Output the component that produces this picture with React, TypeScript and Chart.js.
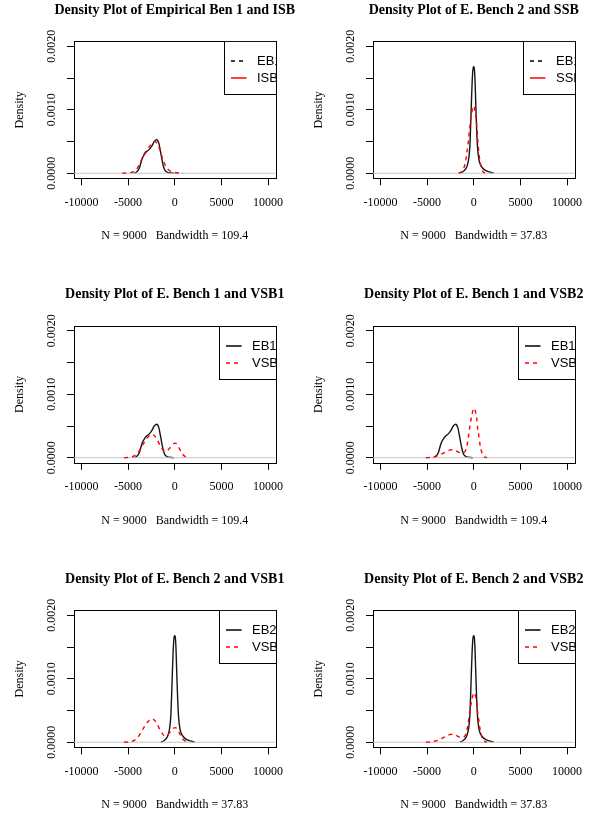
import React, { useEffect, useRef } from "react";
import { Chart, registerables } from "chart.js";

Chart.register(...registerables);

// ---------------- data ----------------
const xTicks = [-10000, -5000, 0, 5000, 10000];
const xTickLabels = ["-10000", "-5000", "0", "5000", "10000"];
const yTicks = [0, 0.0005, 0.001, 0.0015, 0.002];
const yTickLabels = ["0.0000", "", "0.0010", "", "0.0020"];
const X_MIN = -10800;
const X_MAX = 10800;
const Y_MIN = -0.00008;
const Y_MAX = 0.00208;

const eb1X = [-4350, -4100, -3800, -3500, -3200, -2950, -2700, -2450, -2200, -2050, -1950, -1850, -1700, -1550, -1400, -1250, -1100, -950, -800, -600, -300, -100];
const eb1Y = [0, 0.00002, 0.00008, 0.00023, 0.00031, 0.00035, 0.00038, 0.00043, 0.0005, 0.00052, 0.00053, 0.00052, 0.00047, 0.00036, 0.00024, 0.00013, 0.00006, 0.00003, 0.000015, 0.000008, 0.000003, 0];

const isbX = [-5620, -5000, -4600, -4200, -3900, -3600, -3300, -3000, -2700, -2400, -2150, -1950, -1750, -1550, -1350, -1150, -950, -700, -400, 0, 400, 900];
const isbY = [0, 0.000005, 0.000015, 0.00004, 0.00011, 0.0002, 0.0003, 0.00036, 0.00042, 0.00048, 0.0005, 0.00048, 0.00043, 0.00035, 0.00025, 0.00017, 0.00011, 0.00006, 0.00003, 0.000012, 0.000004, 0];

const eb2X = [-1500, -1200, -900, -700, -550, -420, -320, -220, -120, -40, 40, 120, 220, 320, 420, 550, 700, 900, 1200, 1500, 1800, 2150];
const eb2Y = [0, 0.00002, 0.00006, 0.00012, 0.00022, 0.00042, 0.0008, 0.00125, 0.00158, 0.00168, 0.00167, 0.00152, 0.00108, 0.00065, 0.00038, 0.00022, 0.00014, 0.00009, 0.00005, 0.00003, 0.000015, 0];

const ssbX = [-1650, -1350, -1100, -900, -750, -600, -470, -350, -215, -100, 0, 100, 250, 350, 430, 520, 600, 720, 860, 1000, 1200];
const ssbY = [0, 0.00002, 0.00007, 0.00017, 0.00031, 0.00048, 0.00066, 0.00083, 0.00095, 0.00103, 0.00106, 0.00101, 0.00087, 0.0007, 0.00052, 0.00037, 0.00026, 0.00015, 0.00007, 0.00002, 0];

const vsb1X = [-5430, -4900, -4400, -4000, -3600, -3200, -2900, -2600, -2400, -2200, -1900, -1600, -1300, -1050, -850, -600, -350, -150, 50, 250, 450, 650, 850, 1100, 1450];
const vsb1Y = [0, 0.000005, 0.000025, 0.00007, 0.00016, 0.00026, 0.00032, 0.00036, 0.00037, 0.00035, 0.00029, 0.0002, 0.00013, 0.0001, 0.00011, 0.00014, 0.00019, 0.00022, 0.00023, 0.00021, 0.00016, 0.0001, 0.00005, 0.00002, 0];

const vsb2X = [-5130, -4600, -4100, -3700, -3300, -2900, -2600, -2350, -2100, -1800, -1500, -1300, -1100, -900, -750, -600, -470, -340, -215, -80, 70, 200, 320, 430, 540, 660, 780, 900, 1030, 1200, 1400];
const vsb2Y = [0, 0.000005, 0.00002, 0.00004, 0.00007, 0.0001, 0.00012, 0.000125, 0.00012, 0.0001, 0.00008, 0.000075, 0.00008, 0.00011, 0.00017, 0.0003, 0.00044, 0.00056, 0.00066, 0.00075, 0.00078, 0.00072, 0.00062, 0.00045, 0.00035, 0.00022, 0.00013, 0.00007, 0.00003, 0.00001, 0];

const panelTitles = [
  "Density Plot of Empirical Ben 1 and ISB",
  "Density Plot of E. Bench 2 and SSB",
  "Density Plot of E. Bench 1 and VSB1",
  "Density Plot of E. Bench 1 and VSB2",
  "Density Plot of E. Bench 2 and VSB1",
  "Density Plot of E. Bench 2 and VSB2",
];
const panelSubtitles = [
  "N = 9000   Bandwidth = 109.4",
  "N = 9000   Bandwidth = 37.83",
  "N = 9000   Bandwidth = 109.4",
  "N = 9000   Bandwidth = 109.4",
  "N = 9000   Bandwidth = 37.83",
  "N = 9000   Bandwidth = 37.83",
];
const firstNames = ["EB1", "EB1", "EB1", "EB1", "EB2", "EB2"];
const secondNames = ["ISB", "SSB", "VSB1", "VSB2", "VSB1", "VSB2"];
const firstSeries = [[eb1X, eb1Y], [eb2X, eb2Y], [eb1X, eb1Y], [eb1X, eb1Y], [eb2X, eb2Y], [eb2X, eb2Y]];
const secondSeries = [[isbX, isbY], [ssbX, ssbY], [vsb1X, vsb1Y], [vsb2X, vsb2Y], [vsb1X, vsb1Y], [vsb2X, vsb2Y]];
// legend in panels 1-2 shows first series dashed, second solid (as in original)
const legendFirstDashed = [true, true, false, false, false, false];
const yAxisTitle = "Density";

// ---------------- layout ----------------
const CW = 340;
const CH = 280;
const BOX_LEFT = [74, 373];
const BOX_W = 201.5;
const BOX_TOP = [41.3, 325.8, 610.3];
const BOX_H = 137;
const CANVAS_TOP = [0, 284, 569];
const Y_AXIS_W = 66;
const X_AXIS_H = 70;
const TITLE_SIZE = 14;
const TITLE_PAD_BOTTOM = 22.6;
const TITLE_BLOCK = TITLE_SIZE * 1.2 + TITLE_PAD_BOTTOM;
const LEGEND_INSET = [51.5, 51.5, 57, 57, 57, 57];

const SERIF = "'Liberation Serif', 'Times New Roman', 'DejaVu Serif', serif";
const SANS = "'Liberation Sans', Arial, 'DejaVu Sans', sans-serif";
const DASH = [4, 4];

const boxPlugin = {
  id: "rbox",
  beforeDatasetsDraw(chart: any) {
    const { ctx, chartArea: a } = chart;
    ctx.save();
    ctx.strokeStyle = "#000";
    ctx.lineWidth = 1;
    const l = Math.round(a.left) + 0.5;
    const t = Math.round(a.top) + 0.5;
    const r = Math.round(a.right) + 0.5;
    const b = Math.round(a.bottom) + 0.5;
    ctx.strokeRect(l, t, r - l, b - t);
    ctx.restore();
  },
};

const legendPlugin = {
  id: "rlegend",
  afterDatasetsDraw(chart: any, _args: any, opts: any) {
    const { ctx, chartArea: a } = chart;
    ctx.save();
    ctx.beginPath();
    ctx.rect(a.left, a.top, a.right - a.left + 0.5, a.bottom - a.top);
    ctx.clip();
    const bx = Math.round(a.right - opts.inset) + 0.5;
    const by = Math.round(a.top) + 0.5;
    ctx.fillStyle = "#fff";
    ctx.fillRect(bx, by, 200, 53);
    ctx.strokeStyle = "#000";
    ctx.lineWidth = 1;
    ctx.strokeRect(bx, by, 200, 53);
    opts.items.forEach((it: any, i: number) => {
      const y = Math.round(a.top + 20 + i * 17);
      ctx.beginPath();
      ctx.setLineDash(it.dash);
      ctx.strokeStyle = it.color;
      ctx.lineWidth = 1.5;
      ctx.moveTo(bx + 6.5, y);
      ctx.lineTo(bx + 22, y);
      ctx.stroke();
      ctx.setLineDash([]);
      ctx.fillStyle = "#000";
      ctx.font = `13px ${SANS}`;
      ctx.textBaseline = "middle";
      ctx.textAlign = "left";
      ctx.fillText(it.text, bx + 32.5, y);
    });
    ctx.restore();
  },
};

function toPoints(xs: number[], ys: number[]) {
  return xs.map((x, i) => ({ x, y: ys[i] }));
}

function Panel({ idx }: { idx: number }) {
  const ref = useRef<HTMLCanvasElement>(null);
  const row = Math.floor(idx / 2);
  const col = idx % 2;
  const boxLeft = BOX_LEFT[col];
  const boxRight = boxLeft + BOX_W;
  const boxTop = BOX_TOP[row];
  const boxBottom = boxTop + BOX_H;
  const canvasLeft = Math.round((boxLeft + boxRight) / 2 - CW / 2);
  const canvasTop = CANVAS_TOP[row];

  useEffect(() => {
    const canvas = ref.current!;
    const padL = boxLeft - canvasLeft - Y_AXIS_W;
    const padR = CW - (boxRight - canvasLeft) - Y_AXIS_W;
    const padT = boxTop - canvasTop - TITLE_BLOCK;
    const padB = CH - X_AXIS_H - (boxBottom - canvasTop);
    const [fx, fy] = firstSeries[idx];
    const [sx, sy] = secondSeries[idx];
    const firstDashed = legendFirstDashed[idx];

    const chart = new Chart(canvas, {
      type: "line",
      data: {
        datasets: [
          {
            label: secondNames[idx],
            data: toPoints(sx, sy),
            borderColor: "#ff0000",
            borderWidth: 1.4,
            borderDash: DASH,
            pointRadius: 0,
            fill: false,
            cubicInterpolationMode: "monotone",
          },
          {
            label: "zero",
            data: toPoints([X_MIN, X_MAX], [0, 0]),
            borderColor: "#c4c4c4",
            borderWidth: 1,
            pointRadius: 0,
            fill: false,
          },
          {
            label: firstNames[idx],
            data: toPoints(fx, fy),
            borderColor: "#151515",
            borderWidth: 1.4,
            pointRadius: 0,
            fill: false,
            cubicInterpolationMode: "monotone",
          },
        ],
      },
      options: {
        responsive: false,
        animation: false,
        devicePixelRatio: 1,
        events: [],
        layout: { padding: { left: padL, right: padR, top: padT, bottom: padB } },
        plugins: {
          legend: { display: false },
          tooltip: { enabled: false },
          title: {
            display: true,
            text: panelTitles[idx],
            color: "#000",
            font: { family: SERIF, size: TITLE_SIZE, weight: "bold" },
            padding: { top: 0, bottom: TITLE_PAD_BOTTOM },
          },
          rlegend: {
            inset: LEGEND_INSET[idx],
            items: [
              { text: firstNames[idx], color: "#000", dash: firstDashed ? DASH : [] },
              { text: secondNames[idx], color: "#ff0000", dash: firstDashed ? [] : DASH },
            ],
          },
        } as any,
        scales: {
          x: {
            type: "linear",
            position: "bottom",
            min: X_MIN,
            max: X_MAX,
            afterBuildTicks: (s: any) => {
              s.ticks = xTicks.map((v) => ({ value: v }));
            },
            afterFit: (s: any) => {
              s.height = X_AXIS_H;
            },
            ticks: {
              autoSkip: false,
              maxRotation: 0,
              minRotation: 0,
              padding: 10,
              color: "#000",
              font: { family: SERIF, size: 12 },
              callback: (_v: any, i: number) => xTickLabels[i],
            },
            grid: { display: true, drawOnChartArea: false, drawTicks: true, tickLength: 7, color: "#000", lineWidth: 1 },
            border: { display: false },
            title: {
              display: true,
              text: panelSubtitles[idx],
              color: "#000",
              font: { family: SERIF, size: 12 },
              padding: { top: 0, bottom: 5 },
            },
          },
          y: {
            type: "linear",
            position: "left",
            min: Y_MIN,
            max: Y_MAX,
            afterBuildTicks: (s: any) => {
              s.ticks = yTicks.map((v) => ({ value: v }));
            },
            afterFit: (s: any) => {
              s.width = Y_AXIS_W;
            },
            ticks: {
              autoSkip: false,
              minRotation: 90,
              maxRotation: 90,
              crossAlign: "center",
              padding: -1.5,
              color: "#000",
              font: { family: SERIF, size: 12 },
              callback: (_v: any, i: number) => yTickLabels[i],
            },
            grid: { display: true, drawOnChartArea: false, drawTicks: true, tickLength: 7, color: "#000", lineWidth: 1 },
            border: { display: false },
            title: {
              display: true,
              text: yAxisTitle,
              color: "#000",
              font: { family: SERIF, size: 12 },
              padding: { top: Y_AXIS_W - 54.1 - 7.2, bottom: 0 },
            },
          },
          y2: {
            type: "linear",
            position: "right",
            display: true,
            afterFit: (s: any) => {
              s.width = Y_AXIS_W;
            },
            ticks: { display: false },
            grid: { display: false },
            border: { display: false },
          },
        },
      } as any,
      plugins: [boxPlugin, legendPlugin],
    });
    return () => chart.destroy();
  }, []);

  return (
    <canvas
      ref={ref}
      width={CW}
      height={CH}
      style={{ position: "absolute", left: canvasLeft, top: canvasTop, width: CW, height: CH }}
    />
  );
}

export default function App() {
  return (
    <div
      style={{
        position: "absolute",
        left: 0,
        top: 0,
        width: 603,
        height: 813,
        overflow: "hidden",
        background: "#fff",
      }}
    >
      {[0, 1, 2, 3, 4, 5].map((i) => (
        <Panel key={i} idx={i} />
      ))}
    </div>
  );
}
